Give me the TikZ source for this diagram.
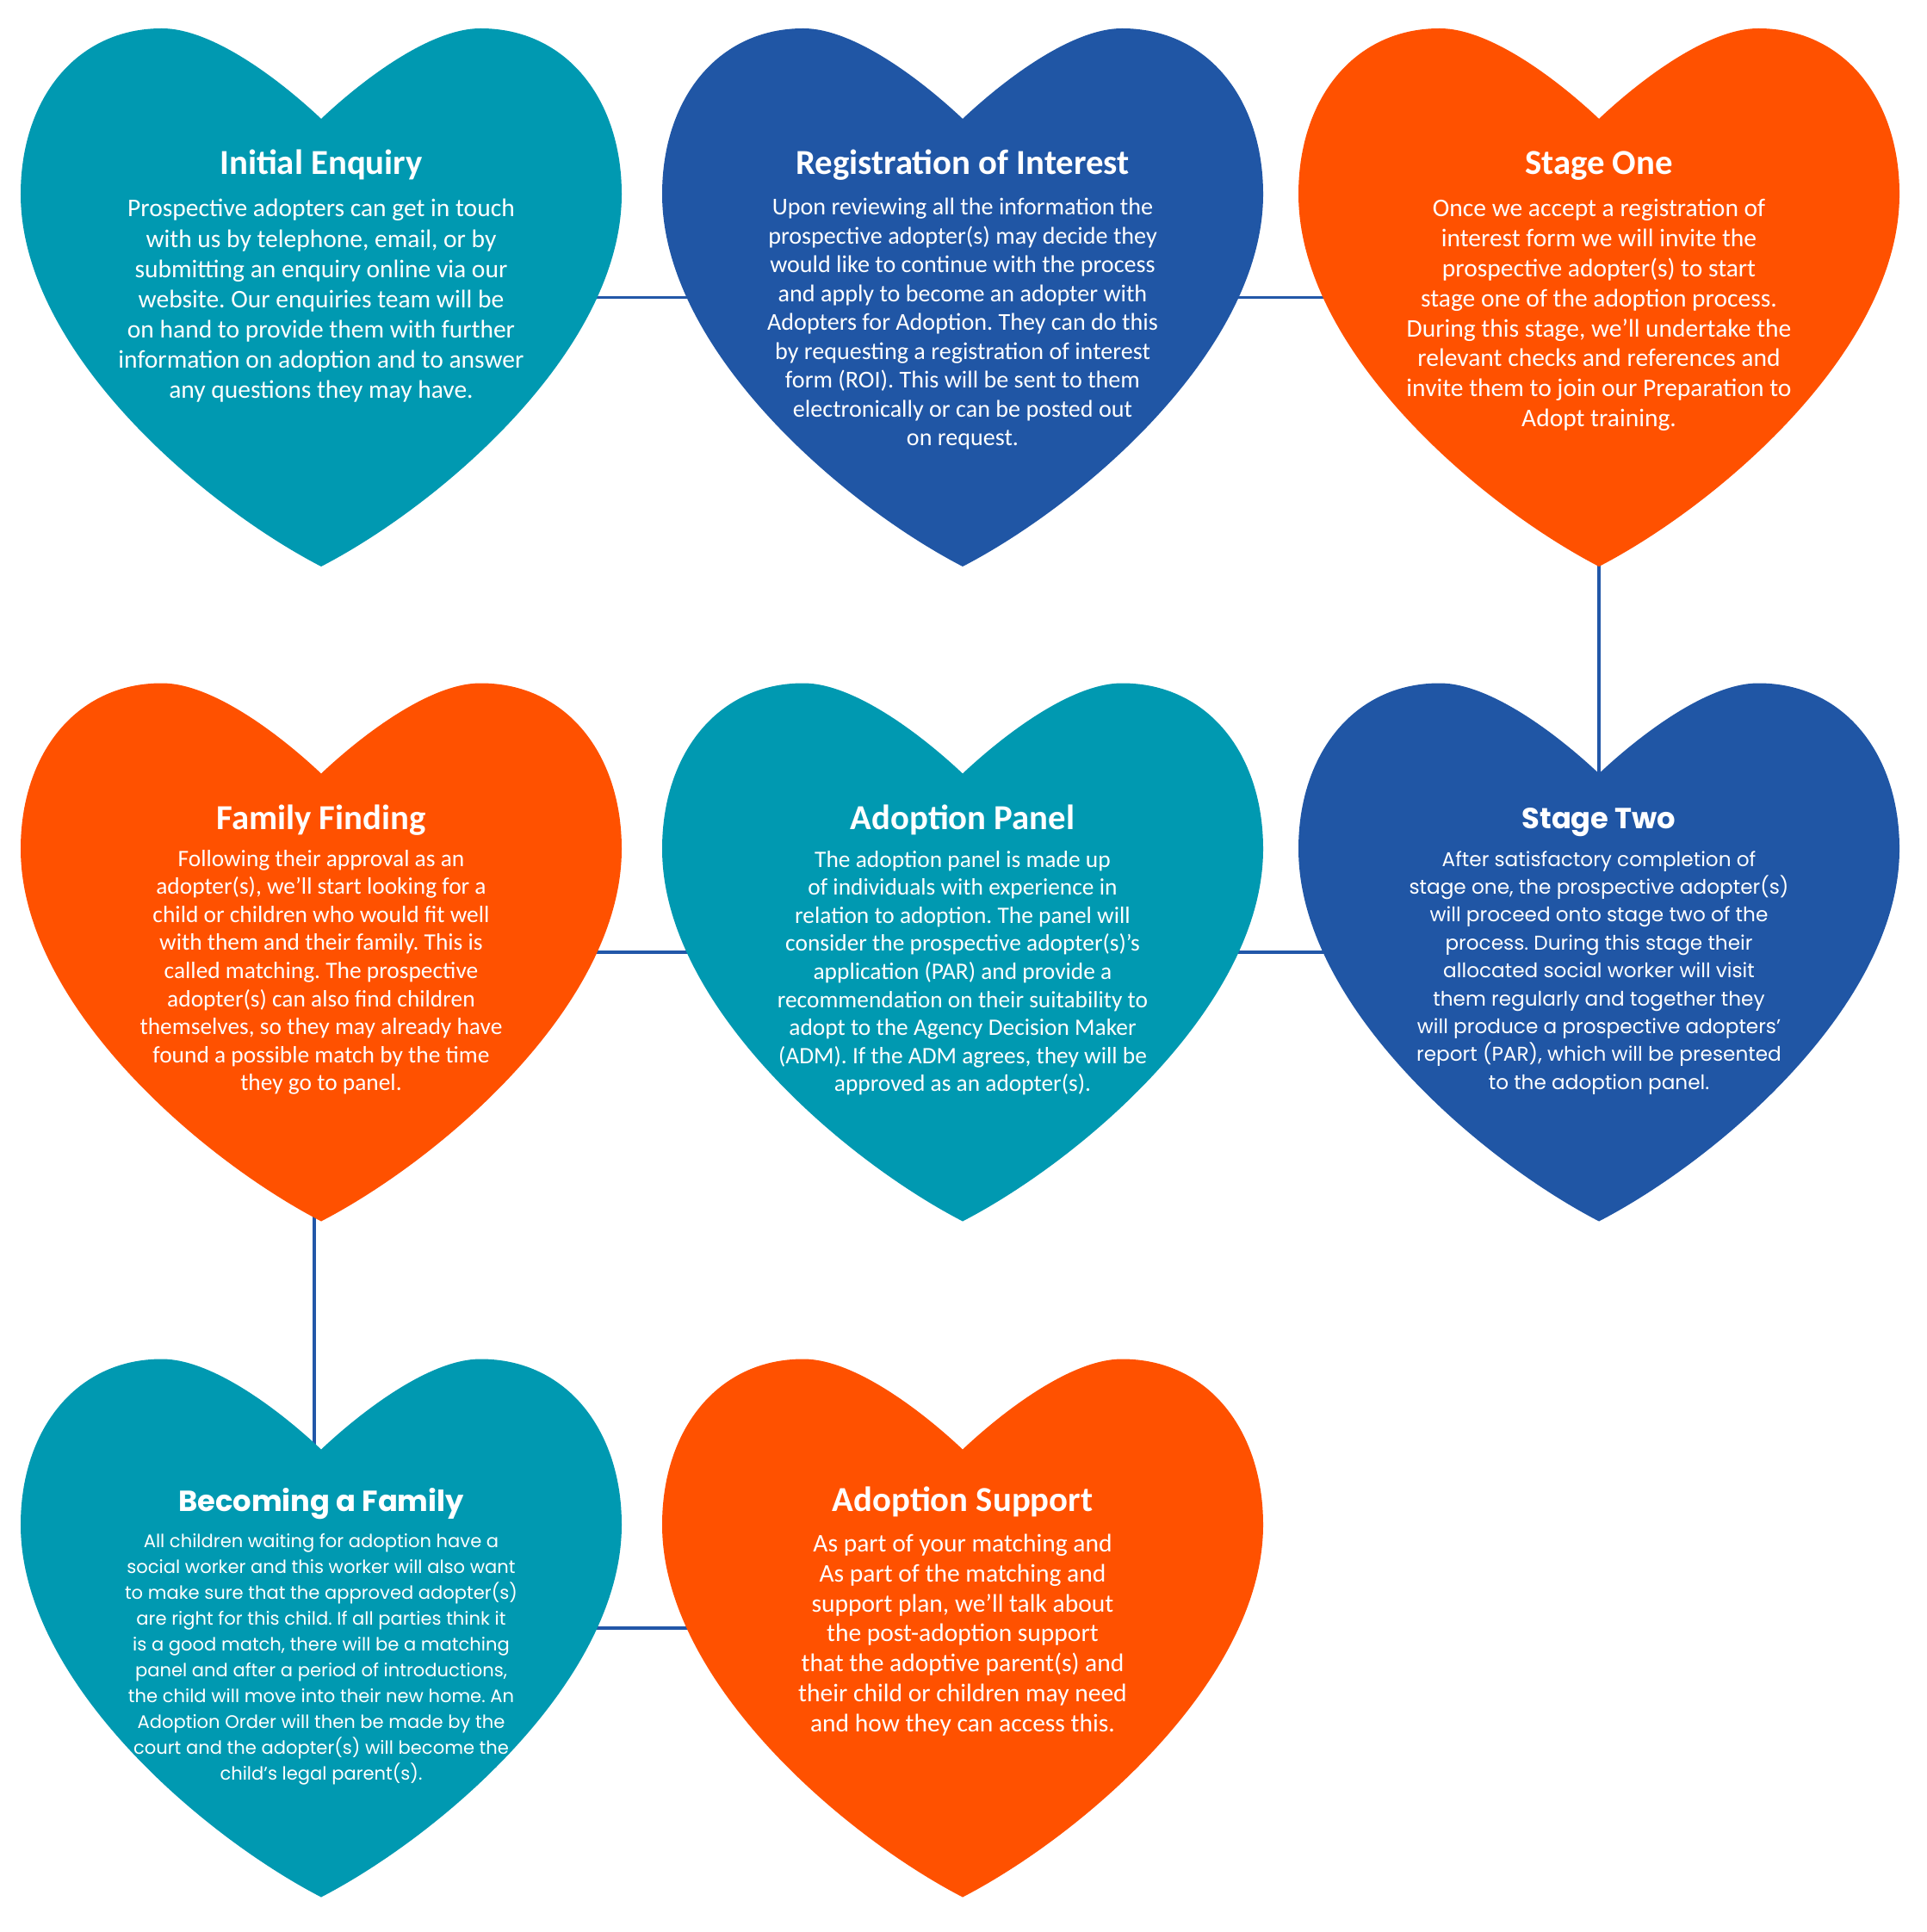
\documentclass[tikz,border=0pt]{standalone}
\usepackage{fontspec}
\setmainfont{Carlito}
\newfontfamily\roundfont{Poppins}
\usetikzlibrary{positioning}
\frenchspacing

\definecolor{heartteal}{HTML}{0099B1}
\definecolor{heartblue}{HTML}{2056A5}
\definecolor{heartorange}{HTML}{FF5100}
\definecolor{linkblue}{HTML}{2257A8}

\tikzset{
  heart/.pic={
    \path[pic actions] (0,-3.125)
      .. controls (-1.4,-2.4) and (-3.49,-0.6) .. (-3.49,1.2)
      .. controls (-3.49,2.3) and (-2.85,3.125) .. (-1.85,3.125)
      .. controls (-1.25,3.125) and (-0.45,2.5) .. (0,2.075)
      .. controls (0.45,2.5) and (1.25,3.125) .. (1.85,3.125)
      .. controls (2.85,3.125) and (3.49,2.3) .. (3.49,1.2)
      .. controls (3.49,-0.6) and (1.4,-2.4) .. (0,-3.125) -- cycle;
  },
  link/.style={linkblue, line width=1.1pt},
  headline/.style={white, inner sep=0pt, anchor=base, font=\fontsize{11.6}{14}\selectfont\bfseries},
  % base of a blurb is the baseline of its last line
  blurb/.style={white, inner sep=0pt, anchor=base, align=center},
}

\begin{document}
\begin{tikzpicture}
  \useasboundingbox (0,0) rectangle (22.37,-22.44);

  % heart centres
  \coordinate (enquiry) at (3.73,-3.455);
  \coordinate (interest) at (11.18,-3.455);
  \coordinate (stageone) at (18.57,-3.455);
  \coordinate (finding) at (3.73,-11.06);
  \coordinate (panel) at (11.18,-11.06);
  \coordinate (stagetwo) at (18.57,-11.06);
  \coordinate (becoming) at (3.73,-18.91);
  \coordinate (support) at (11.18,-18.91);

  % connectors first, the hearts cover them
  \draw[link] (enquiry) -- (interest) -- (stageone) -- (stagetwo) -- (panel) -- (finding);
  \draw[link] ([xshift=-0.08cm]finding) -- ([xshift=-0.08cm]becoming);
  \draw[link] (becoming) -- (support);

  % the hearts
  \foreach \spot/\tint in {enquiry/heartteal, interest/heartblue, stageone/heartorange,
      finding/heartorange, panel/heartteal, stagetwo/heartblue,
      becoming/heartteal, support/heartorange}
    \pic[fill=\tint] at (\spot) {heart};

  % top row
  \node[headline] (enquiryhead) at ([yshift=1.425cm]enquiry) {Initial Enquiry};
  \node[blurb, font=\fontsize{8.4}{9.96}\selectfont] (enquirytext) at ([yshift=-0.49cm-59.76pt]enquiryhead.base) {Prospective adopters can get in touch\\
    with us by telephone, email, or by\\
    submitting an enquiry online via our\\
    website. Our enquiries team will be\\
    on hand to provide them with further\\
    information on adoption and to answer\\
    any questions they may have.};

  \node[headline] (interesthead) at ([yshift=1.425cm]interest) {Registration of Interest};
  \node[blurb, font=\fontsize{8.0}{9.53}\selectfont] (interesttext) at ([yshift=-0.47cm-76.24pt]interesthead.base) {Upon reviewing all the information the\\
    prospective adopter(s) may decide they\\
    would like to continue with the process\\
    and apply to become an adopter with\\
    Adopters for Adoption. They can do this\\
    by requesting a registration of interest\\
    form (ROI). This will be sent to them\\
    electronically or can be posted out\\
    on request.};

  \node[headline] (stageonehead) at ([yshift=1.425cm]stageone) {Stage One};
  \node[blurb, font=\fontsize{8.4}{9.9}\selectfont] (stageonetext) at ([yshift=-0.49cm-69.3pt]stageonehead.base) {Once we accept a registration of\\
    interest form we will invite the\\
    prospective adopter(s) to start\\
    stage one of the adoption process.\\
    During this stage, we’ll undertake the\\
    relevant checks and references and\\
    invite them to join our Preparation to\\
    Adopt training.};

  % middle row
  \node[headline] (findinghead) at ([yshift=1.43cm]finding) {Family Finding};
  \node[blurb, font=\fontsize{7.8}{9.28}\selectfont] (findingtext) at ([yshift=-0.43cm-74.24pt]findinghead.base) {Following their approval as an\\
    adopter(s), we’ll start looking for a\\
    child or children who would fit well\\
    with them and their family. This is\\
    called matching. The prospective\\
    adopter(s) can also find children\\
    themselves, so they may already have\\
    found a possible match by the time\\
    they go to panel.};

  \node[headline] (panelhead) at ([yshift=1.43cm]panel) {Adoption Panel};
  \node[blurb, font=\fontsize{7.8}{9.28}\selectfont] (paneltext) at ([yshift=-0.44cm-74.24pt]panelhead.base) {The adoption panel is made up\\
    of individuals with experience in\\
    relation to adoption. The panel will\\
    consider the prospective adopter(s)’s\\
    application (PAR) and provide a\\
    recommendation on their suitability to\\
    adopt to the Agency Decision Maker\\
    (ADM). If the ADM agrees, they will be\\
    approved as an adopter(s).};

  \node[headline, font=\roundfont\fontsize{9.6}{12}\selectfont\bfseries] (stagetwohead) at ([yshift=1.44cm]stagetwo) {Stage Two};
  \node[blurb, font=\roundfont\fontsize{6.6}{9.22}\selectfont] (stagetwotext) at ([yshift=-0.44cm-73.76pt]stagetwohead.base) {After satisfactory completion of\\
    stage one, the prospective adopter(s)\\
    will proceed onto stage two of the\\
    process. During this stage their\\
    allocated social worker will visit\\
    them regularly and together they\\
    will produce a prospective adopters’\\
    report (PAR), which will be presented\\
    to the adoption panel.};

  % bottom row
  \node[headline, font=\roundfont\fontsize{9.6}{12}\selectfont\bfseries] (becominghead) at ([yshift=1.36cm]becoming) {Becoming a Family};
  \node[blurb, font=\roundfont\fontsize{6.0}{8.54}\selectfont] (becomingtext) at ([yshift=-0.42cm-76.86pt]becominghead.base) {All children waiting for adoption have a\\
    social worker and this worker will also want\\
    to make sure that the approved adopter(s)\\
    are right for this child. If all parties think it\\
    is a good match, there will be a matching\\
    panel and after a period of introductions,\\
    the child will move into their new home. An\\
    Adoption Order will then be made by the\\
    court and the adopter(s) will become the\\
    child’s legal parent(s).};

  \node[headline] (supporthead) at ([yshift=1.355cm]support) {Adoption Support};
  \node[blurb, font=\fontsize{8.4}{9.9}\selectfont] (supporttext) at ([yshift=-0.47cm-59.4pt]supporthead.base) {As part of your matching and\\
    As part of the matching and\\
    support plan, we’ll talk about\\
    the post-adoption support\\
    that the adoptive parent(s) and\\
    their child or children may need\\
    and how they can access this.};
\end{tikzpicture}
\end{document}
